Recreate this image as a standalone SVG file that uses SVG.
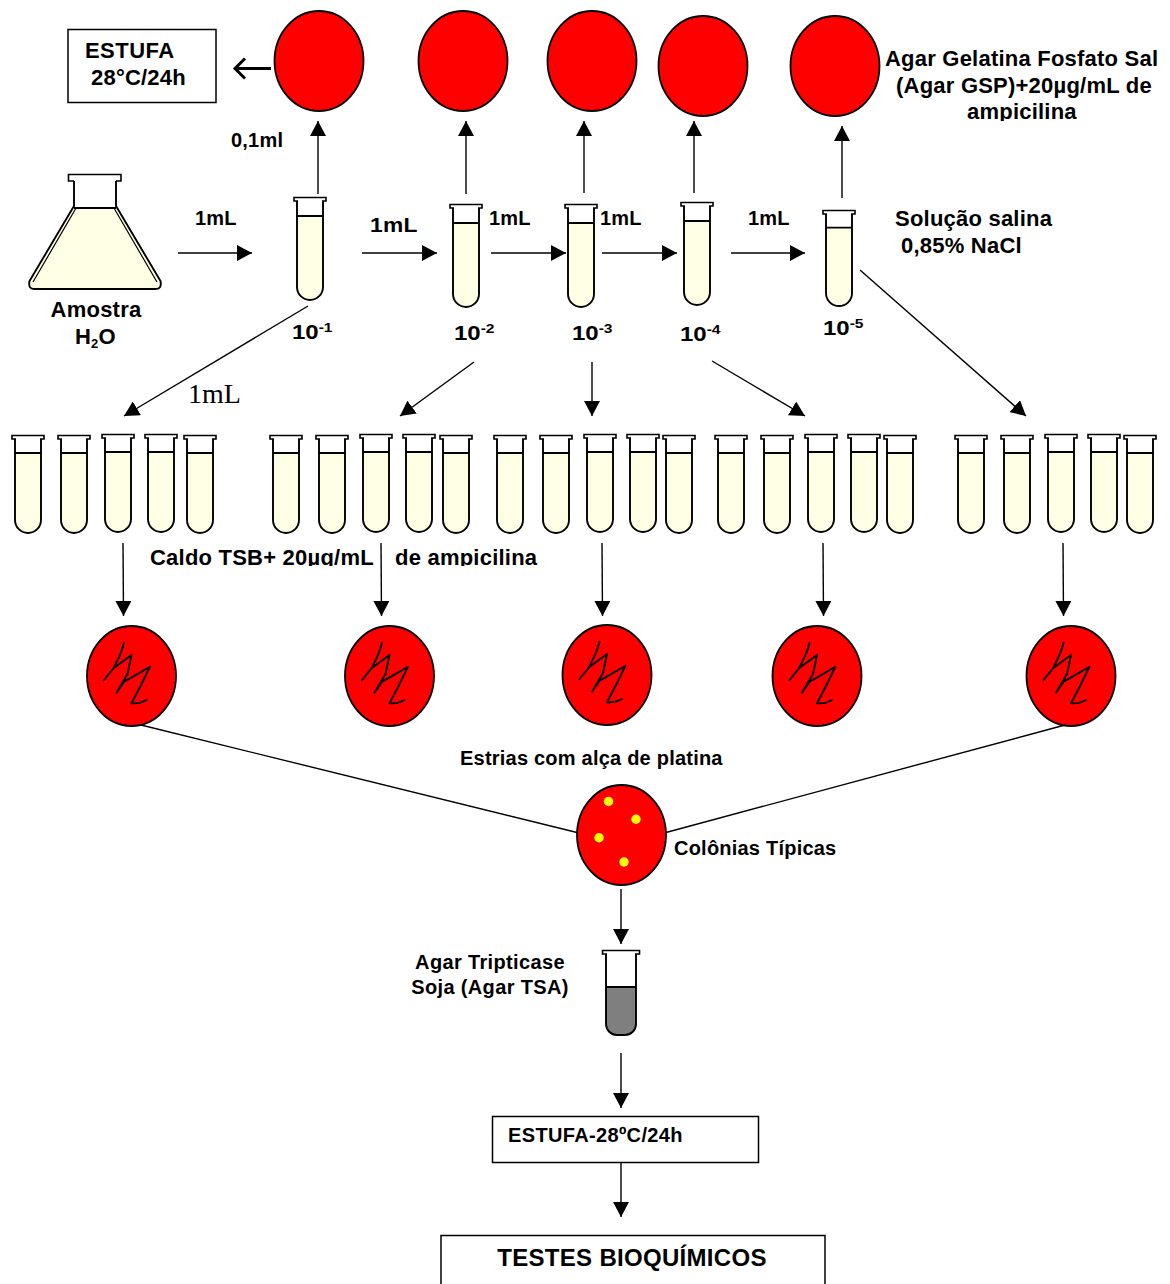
<svg xmlns="http://www.w3.org/2000/svg" width="1170" height="1284" viewBox="0 0 1170 1284">
<style>
text{font-family:"Liberation Sans",Arial,sans-serif;font-weight:bold;fill:#000;letter-spacing:.22px}
.t22{font-size:22px}.t20{font-size:20px}.t24{font-size:24px}
.c{text-anchor:middle}
.dil{font-size:20px;letter-spacing:0}
.sup{font-size:13px}
.box{fill:#fff;stroke:#000;stroke-width:1.5}
.plate{fill:#f00;stroke:#000;stroke-width:1.8}
.streak{fill:none;stroke:#000;stroke-width:1.9;stroke-linejoin:round;stroke-linecap:round}
.dot{fill:#ff0}
.w{fill:#fff;stroke:#000;stroke-width:1.6}
.liq{fill:#ffffe5}
.gl{fill:none;stroke:#000;stroke-width:1.9}
.thin{fill:none;stroke:#000;stroke-width:1.2}
.cn line,.cn polyline{fill:none;stroke:#000;stroke-width:1.4}
.cn line.ar{marker-end:url(#ah)}
</style>
<defs>
<marker id="ah" markerUnits="userSpaceOnUse" markerWidth="16" markerHeight="16" refX="15" refY="8" orient="auto"><path d="M0,0L15,8L0,16Z" fill="#000"/></marker>
<clipPath id="clipCaldo"><rect x="140" y="540" width="410" height="26"/></clipPath>
<clipPath id="clipAmp"><rect x="880" y="95" width="290" height="26"/></clipPath>
<g id="tubeTop">
<path class="liq" d="M-13,19V90A13,13 0 0 0 13,90V19Z"/>
<path class="gl" d="M-13,4V90A13,13 0 0 0 13,90V4M-13,19H13"/>
<path class="w" d="M-12,4H-16V0.500H16V4H12" />
</g>
<g id="tubeRow">
<path class="liq" d="M-13,18V85A13,13 0 0 0 13,85V18Z"/>
<path class="gl" d="M-13,4V85A13,13 0 0 0 13,85V4M-13,18H13"/>
<path class="w" d="M-12,4H-16V0.500H16V4H12"/>
</g>
<g id="plateS">
<ellipse class="plate" cx="0" cy="0" rx="44.5" ry="50"/>
<path class="streak" d="M-7.5,-33.3Q-9,-27 -12,-20L-18,-7.7L-27.5,4L-18,-7.7L0,-21L-4,-2L-15,16.7L-7.5,5.7L-1.5,2.300L18.500,-9.300L9,10L0,27.300Q8,28 15,24"/>
</g>
</defs>
<rect width="1170" height="1284" fill="#fff"/>

<g id="connectors" class="cn">
<line x1="271" y1="68.5" x2="236" y2="68.5" style="stroke-width:3"/>
<polyline points="245,58.5 235,68.5 245,78.5" style="stroke-width:3"/>
<line class="ar" x1="318" y1="194" x2="318" y2="121"/>
<line class="ar" x1="466" y1="194" x2="466" y2="121"/>
<line class="ar" x1="584" y1="193" x2="584" y2="121"/>
<line class="ar" x1="694" y1="193" x2="694" y2="121"/>
<line class="ar" x1="842" y1="198" x2="842" y2="126"/>
<line class="ar" x1="178" y1="253" x2="252" y2="253"/>
<line class="ar" x1="362" y1="253" x2="437" y2="253"/>
<line class="ar" x1="491" y1="253" x2="566" y2="253"/>
<line class="ar" x1="602" y1="253" x2="677" y2="253"/>
<line class="ar" x1="731" y1="253" x2="805" y2="253"/>
<line class="ar" x1="308" y1="306" x2="124" y2="416"/>
<line class="ar" x1="474" y1="362" x2="400" y2="416"/>
<line class="ar" x1="592" y1="362" x2="592" y2="416"/>
<line class="ar" x1="712" y1="361" x2="805" y2="416"/>
<line class="ar" x1="860" y1="270" x2="1026" y2="416"/>
<line class="ar" x1="123" y1="543" x2="123.5" y2="616"/>
<line class="ar" x1="381" y1="543" x2="381.5" y2="616"/>
<line class="ar" x1="602" y1="543" x2="602.5" y2="616"/>
<line class="ar" x1="823" y1="543" x2="823.5" y2="616"/>
<line class="ar" x1="1063" y1="543" x2="1063.5" y2="616"/>
<line x1="141" y1="725" x2="577" y2="832.5"/>
<line x1="1065" y1="725" x2="666" y2="832.5"/>
<line class="ar" x1="621" y1="889" x2="621" y2="944"/>
<line class="ar" x1="621" y1="1053" x2="621" y2="1108"/>
<line class="ar" x1="621" y1="1163" x2="621" y2="1217"/>
</g>

<g id="estufa1"><rect class="box" x="68" y="29.5" width="148" height="73"/><text class="t22" x="85" y="58" style="letter-spacing:.45px">ESTUFA</text><text class="t22" x="91" y="85">28°C/24h</text></g>

<g id="plate-top-1"><ellipse class="plate" cx="319" cy="61" rx="44.5" ry="50"/></g>
<g id="plate-top-2"><ellipse class="plate" cx="463" cy="61" rx="44.5" ry="50"/></g>
<g id="plate-top-3"><ellipse class="plate" cx="592" cy="61" rx="44.5" ry="50"/></g>
<g id="plate-top-4"><ellipse class="plate" cx="703" cy="66" rx="44.5" ry="50"/></g>
<g id="plate-top-5"><ellipse class="plate" cx="835" cy="66" rx="44.5" ry="50"/></g>

<g id="label-gsp">
<text class="t22" x="885" y="66">Agar Gelatina Fosfato Sal</text>
<text class="t22" x="896" y="93">(Agar GSP)+20µg/mL de</text>
<g clip-path="url(#clipAmp)"><text class="t22" x="967" y="119">ampicilina</text></g>
</g>
<g id="label-01ml"><text class="t20" x="231" y="147">0,1ml</text></g>

<g id="flask">
<path class="liq" d="M74,208H116L160,280Q162,289 156,289H34Q28,289 30,280Z"/>
<path class="gl" d="M74,181V206L29.500,281Q28,289 34,289H156Q162,289 160.500,281L116,206V181M74,208H116"/>
<path class="thin" d="M75.500,209L33,282M114.500,209L157,282"/>
<path class="w" d="M74,181H68.500V174.500H121V181H116"/>
<text class="t22 c" x="96" y="317">Amostra</text>
<text class="t22" x="75" y="344">H<tspan class="sup" dy="4">2</tspan><tspan dy="-4">O</tspan></text>
</g>

<g id="tube-d1"><use href="#tubeTop" x="310" y="197"/><text class="dil" transform="translate(292,339) scale(1.2,1)">10<tspan class="sup" dy="-7">-1</tspan></text></g>
<g id="tube-d2"><use href="#tubeTop" x="466" y="204"/><text class="dil" transform="translate(454,340) scale(1.2,1)">10<tspan class="sup" dy="-7">-2</tspan></text></g>
<g id="tube-d3"><use href="#tubeTop" x="581" y="204"/><text class="dil" transform="translate(572,340) scale(1.2,1)">10<tspan class="sup" dy="-7">-3</tspan></text></g>
<g id="tube-d4"><use href="#tubeTop" x="697" y="202"/><text class="dil" transform="translate(680,341) scale(1.2,1)">10<tspan class="sup" dy="-7">-4</tspan></text></g>
<g id="tube-d5"><use href="#tubeRow" transform="translate(839,210) scale(1,.98)"/><text class="dil" transform="translate(823,335) scale(1.2,1)">10<tspan class="sup" dy="-7">-5</tspan></text></g>

<g id="labels-1ml">
<text class="t20" x="195" y="225">1mL</text>
<text class="t20" transform="translate(370,232) scale(1.14,1)">1mL</text>
<text class="t20" x="489" y="225">1mL</text>
<text class="t20" x="600" y="225">1mL</text>
<text class="t20" x="748" y="225">1mL</text>
<text x="188" y="403" style="font-family:'Liberation Serif',serif;font-weight:normal;font-size:28px;letter-spacing:0">1mL</text>
</g>
<g id="label-salina"><text class="t22" x="895" y="226">Solução salina</text><text class="t22" x="901" y="253">0,85% NaCl</text></g>

<g id="row-1">
<use href="#tubeRow" x="28" y="435"/><use href="#tubeRow" x="74" y="435"/><use href="#tubeRow" x="118" y="434"/><use href="#tubeRow" x="161" y="434"/><use href="#tubeRow" x="200" y="435"/>
</g>
<g id="row-2">
<use href="#tubeRow" x="286" y="435"/><use href="#tubeRow" x="332" y="435"/><use href="#tubeRow" x="376" y="434"/><use href="#tubeRow" x="419" y="434"/><use href="#tubeRow" x="456" y="435"/>
</g>
<g id="row-3">
<use href="#tubeRow" x="510" y="435"/><use href="#tubeRow" x="556" y="435"/><use href="#tubeRow" x="600" y="434"/><use href="#tubeRow" x="643" y="434"/><use href="#tubeRow" x="679" y="435"/>
</g>
<g id="row-4">
<use href="#tubeRow" x="731" y="435"/><use href="#tubeRow" x="777" y="435"/><use href="#tubeRow" x="821" y="434"/><use href="#tubeRow" x="864" y="434"/><use href="#tubeRow" x="900" y="435"/>
</g>
<g id="row-5">
<use href="#tubeRow" x="971" y="435"/><use href="#tubeRow" x="1017" y="435"/><use href="#tubeRow" x="1061" y="434"/><use href="#tubeRow" x="1104" y="434"/><use href="#tubeRow" x="1140" y="435"/>
</g>
<g id="label-caldo" clip-path="url(#clipCaldo)"><text class="t22" x="150" y="565">Caldo TSB+ 20µg/mL</text><text class="t22" x="395" y="565">de ampicilina</text></g>

<g id="streak-1"><use href="#plateS" x="131.5" y="676"/></g>
<g id="streak-2"><use href="#plateS" x="389.5" y="676"/></g>
<g id="streak-3"><use href="#plateS" x="607" y="675"/></g>
<g id="streak-4"><use href="#plateS" x="817" y="676"/></g>
<g id="streak-5"><use href="#plateS" x="1071" y="676"/></g>
<g id="label-estrias"><text class="t20" x="460" y="765">Estrias com alça de platina</text></g>

<g id="colonies">
<ellipse class="plate" cx="621.500" cy="835" rx="44.5" ry="50"/>
<circle class="dot" cx="608.500" cy="801.500" r="4.700"/><circle class="dot" cx="636" cy="819.300" r="4.700"/><circle class="dot" cx="599" cy="837.700" r="4.700"/><circle class="dot" cx="624" cy="862" r="4.700"/>
</g>
<g id="label-colonias"><text class="t20" x="674" y="855">Colônias Típicas</text></g>

<g id="tube-tsa">
<path d="M-15,37V74A11,11 0 0 0 -4,85H4A11,11 0 0 0 15,74V37Z" transform="translate(621,950)" fill="#7f7f7f"/>
<path class="gl" transform="translate(621,950)" d="M-15,4V74A11,11 0 0 0 -4,85H4A11,11 0 0 0 15,74V4M-15,37H15"/>
<path class="w" transform="translate(621,950)" d="M-14,4H-18.500V0.500H18.500V4H14"/>
</g>
<g id="label-tsa"><text class="t20 c" x="490" y="969" style="letter-spacing:.35px">Agar Tripticase</text><text class="t20 c" x="490" y="994" style="letter-spacing:.35px">Soja (Agar TSA)</text></g>

<g id="estufa2"><rect class="box" x="492.500" y="1116.500" width="266" height="46"/><text class="t20" x="508" y="1142" style="letter-spacing:.35px">ESTUFA-28ºC/24h</text></g>
<g id="testes"><path class="box" d="M441,1284V1235.500H825V1284"/><text class="t24 c" x="632" y="1266" style="letter-spacing:.3px">TESTES BIOQUÍMICOS</text></g>
</svg>
